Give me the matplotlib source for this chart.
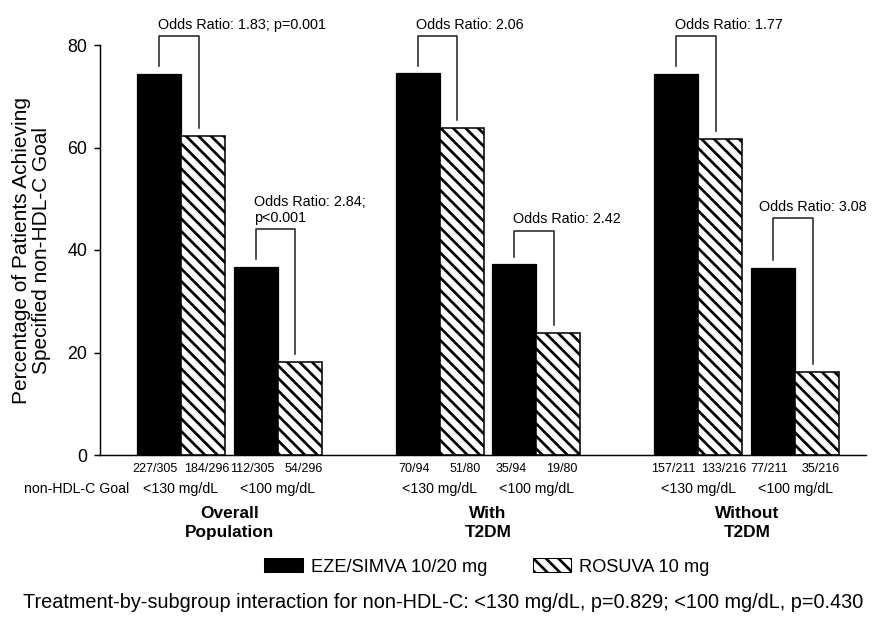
import matplotlib
matplotlib.use("Agg")
import matplotlib.pyplot as plt
import matplotlib.transforms as mtransforms
from matplotlib.patches import Patch
import numpy as np

# === Data ===
groups = ["Overall\nPopulation", "With\nT2DM", "Without\nT2DM"]
goals = ["<130 mg/dL", "<100 mg/dL"]
eze_pct = [74.4, 36.7, 74.5, 37.2, 74.4, 36.5]      # per group: <130, <100
rosuva_pct = [62.2, 18.2, 63.8, 23.8, 61.6, 16.2]
eze_n = ["227/305", "112/305", "70/94", "35/94", "157/211", "77/211"]
rosuva_n = ["184/296", "54/296", "51/80", "19/80", "133/216", "35/216"]
odds_text = ["Odds Ratio: 1.83; p=0.001", "Odds Ratio: 2.84;\np<0.001",
             "Odds Ratio: 2.06", "Odds Ratio: 2.42",
             "Odds Ratio: 1.77", "Odds Ratio: 3.08"]
bracket_top = [81.8, 44.1, 81.8, 43.8, 81.8, 46.3]
text_dx = [0, 0, 0, 0, 0, -12]   # label nudge (points)
yticks = [0, 20, 40, 60, 80]

plt.rcParams["font.family"] = ["Liberation Sans", "DejaVu Sans"]
plt.rcParams["hatch.linewidth"] = 2.6

# === Layout ===
W, H, DPI = 877, 618, 75
fig = plt.figure(figsize=(W / DPI, H / DPI), dpi=DPI)
ax = fig.add_axes([100 / W, (H - 455) / H, (866 - 100) / W, (455 - 45) / H])

w = 1.0
group_step = 5.88
pair_step = 2.2
first = 0.84 + w / 2
xs_eze, xs_ros = [], []
for g in range(3):
    for p in range(2):
        c = first + g * group_step + p * pair_step
        xs_eze.append(c)
        xs_ros.append(c + w)

ax.bar(xs_eze, eze_pct, width=w, color="black", edgecolor="black", linewidth=1.2)
ax.bar(xs_ros, rosuva_pct, width=w, color="white", edgecolor="black",
       linewidth=1.5, hatch="\\\\")

ax.set_xlim(0, 17.41)
ax.set_ylim(0, 80)
ax.set_yticks(yticks)
ax.set_xticks([])
for s in ["top", "right"]:
    ax.spines[s].set_visible(False)
ax.spines["left"].set_linewidth(1.4)
ax.spines["bottom"].set_linewidth(1.4)
ax.spines["left"].set_bounds(0, 80)
ax.tick_params(axis="y", length=6, width=1.4, pad=6, labelsize=17)

ax.set_ylabel("Percentage of Patients Achieving\nSpecified non-HDL-C Goal",
              fontsize=20, labelpad=16, linespacing=1.05)

# === Odds ratio brackets ===
for i in range(6):
    xl = xs_eze[i]
    xr = xs_ros[i] - 0.1
    top = bracket_top[i]
    ax.plot([xl, xl, xr, xr],
            [eze_pct[i] + 1.5, top, top, rosuva_pct[i] + 1.6],
            color="#222222", lw=1.5, clip_on=False)
    ax.annotate(odds_text[i], (xl - 0.03, top), xytext=(text_dx[i], 4),
                textcoords="offset points", ha="left", va="bottom",
                fontsize=13.8, linespacing=1.15, annotation_clip=False)

# === Labels below axis ===
tr = mtransforms.blended_transform_factory(ax.transData, fig.transFigure)
def fy(ypx):
    return 1 - ypx / H

for i in range(6):
    ax.text(xs_eze[i] - 0.08, fy(469), eze_n[i], transform=tr, ha="center",
            va="center", fontsize=12)
    ax.text(xs_ros[i] + 0.08, fy(469), rosuva_n[i], transform=tr, ha="center",
            va="center", fontsize=12)
    ax.text(xs_eze[i] + w / 2, fy(489), goals[i % 2], transform=tr,
            ha="center", va="center", fontsize=13.5)

fig.text(129 / W, fy(489), "non-HDL-C Goal", ha="right", va="center",
         fontsize=13.5)

for g in range(3):
    gc = (xs_eze[2 * g] - w / 2 + xs_ros[2 * g + 1] + w / 2) / 2
    ax.text(gc, fy(523), groups[g], transform=tr, ha="center", va="center",
            fontsize=16.5, fontweight="bold", linespacing=1.4)

# === Legend ===
handles = [Patch(facecolor="black", edgecolor="black", label="EZE/SIMVA 10/20 mg"),
           Patch(facecolor="white", edgecolor="black", hatch="\\\\",
                 label="ROSUVA 10 mg")]
fig.legend(handles=handles, loc="center", bbox_to_anchor=(487 / W, fy(567)),
           ncol=2, frameon=False, fontsize=17.5, handlelength=2.1,
           handleheight=0.8, handletextpad=0.45, columnspacing=2.5)

fig.text(443 / W, fy(603),
         "Treatment-by-subgroup interaction for non-HDL-C: <130 mg/dL, "
         "p=0.829; <100 mg/dL, p=0.430",
         ha="center", va="center", fontsize=19.1)

fig.savefig("out.png", dpi=DPI)
